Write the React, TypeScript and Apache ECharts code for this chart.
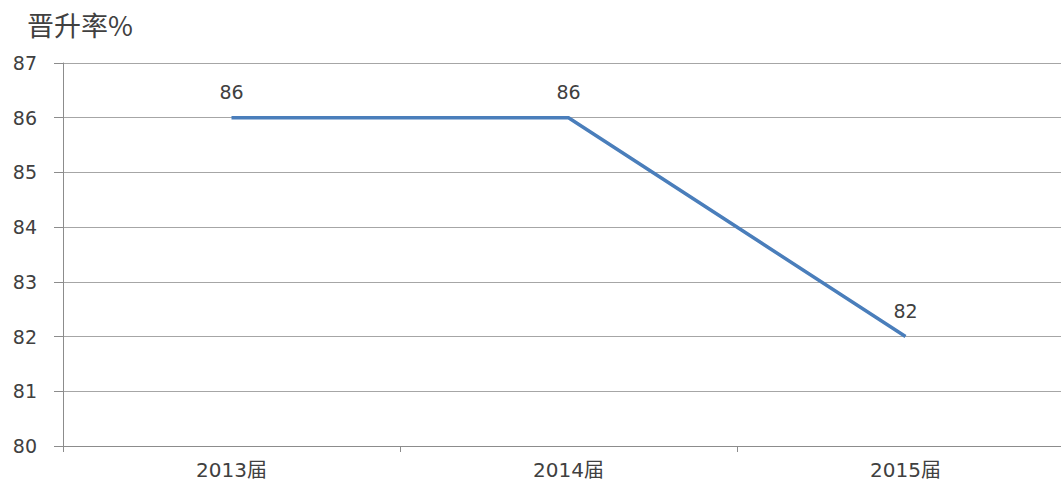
import React, { useEffect, useRef } from "react";
import * as echarts from "echarts";

const categories = ["2013届", "2014届", "2015届"];
const values = [86, 86, 82];
const yTitle = "晋升率%";

export default function App() {
  const ref = useRef<HTMLDivElement>(null);
  useEffect(() => {
    if (!ref.current) return;
    const chart = echarts.init(ref.current, null, { renderer: "svg" });
    const font = "'DejaVu Sans', 'Noto Sans CJK SC', sans-serif";
    const cjk = "'Noto Sans CJK SC', sans-serif";
    chart.setOption({
      animation: false,
      backgroundColor: "#ffffff",
      textStyle: { fontFamily: font },
      graphic: [
        {
          type: "text",
          left: 27,
          top: 11,
          style: { text: yTitle, fontSize: 27, fill: "#404040", fontFamily: cjk },
        },
      ],
      grid: { left: 63, right: 0, top: 63, bottom: 37, containLabel: false },
      xAxis: {
        type: "category",
        data: categories,
        boundaryGap: true,
        axisLine: { show: true, lineStyle: { color: "#8c8c8c", width: 1 } },
        axisTick: { show: true, length: 6, lineStyle: { color: "#8c8c8c" } },
        axisLabel: { color: "#404040", fontSize: 20, margin: 14, fontFamily: font },
        splitLine: { show: false },
      },
      yAxis: {
        type: "value",
        min: 80,
        max: 87,
        interval: 1,
        axisLine: { show: true, lineStyle: { color: "#8c8c8c", width: 1 } },
        axisTick: { show: true, length: 9, lineStyle: { color: "#8c8c8c" } },
        axisLabel: { color: "#404040", fontSize: 19, margin: 26, fontFamily: font },
        splitLine: { show: true, lineStyle: { color: "#a6a6a6", width: 1 } },
      },
      series: [
        {
          type: "line",
          data: values,
          symbol: "circle",
          symbolSize: 0,
          showSymbol: true,
          lineStyle: { color: "#4a7ebb", width: 3.5 },
          itemStyle: { color: "#4a7ebb" },
          label: {
            show: true,
            position: "top",
            distance: 16,
            color: "#404040",
            fontSize: 19,
            fontFamily: font,
          },
        },
      ],
    });
    return () => chart.dispose();
  }, []);
  return (
    <div
      ref={ref}
      style={{ position: "fixed", left: 0, top: 0, width: 1074, height: 483 }}
    />
  );
}
